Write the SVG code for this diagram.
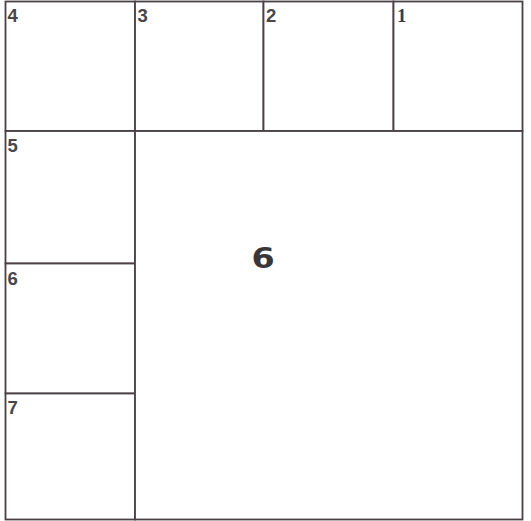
<svg xmlns="http://www.w3.org/2000/svg" width="531" height="521" viewBox="0 0 531 521">
<style>
.c{fill:#ffffff;stroke:#4a4046;stroke-width:1.8}
.t{font-family:"Liberation Sans",Arial,sans-serif;font-size:18.5px;font-weight:bold;fill:#4a4648}
.s{font-family:"Liberation Serif","Times New Roman",serif;font-size:19px;font-weight:bold;fill:#3e3a3c}
.b{font-family:"DejaVu Sans",sans-serif;font-size:29px;font-weight:bold;fill:#3a3638}
</style>
<rect width="531" height="521" fill="#ffffff"/>
<g id="n4"><rect class="c" x="5.5" y="1.5" width="129.5" height="129.5"/><text class="t" x="7.5" y="22">4</text></g>
<g id="n3"><rect class="c" x="135" y="1.5" width="128.5" height="129.5"/><text class="t" x="137.5" y="22">3</text></g>
<g id="n2"><rect class="c" x="263.5" y="1.5" width="130" height="129.5"/><text class="t" x="266" y="22">2</text></g>
<g id="n1"><rect class="c" x="393.5" y="1.5" width="129" height="129.5"/><text class="s" x="397" y="22">1</text></g>
<g id="n5"><rect class="c" x="5.5" y="131" width="129.5" height="132.5"/><text class="t" x="7.5" y="152">5</text></g>
<g id="n6s"><rect class="c" x="5.5" y="263.5" width="129.5" height="130"/><text class="t" x="7.5" y="285">6</text></g>
<g id="n7"><rect class="c" x="5.5" y="393.5" width="129.5" height="126"/><text class="t" x="7.5" y="414">7</text></g>
<g id="n6"><rect class="c" x="135" y="131" width="387.5" height="388.5"/><text class="b" transform="scale(1.15,1)" x="228.7" y="268" text-anchor="middle">6</text></g>
<g id="connectors"></g>
</svg>
